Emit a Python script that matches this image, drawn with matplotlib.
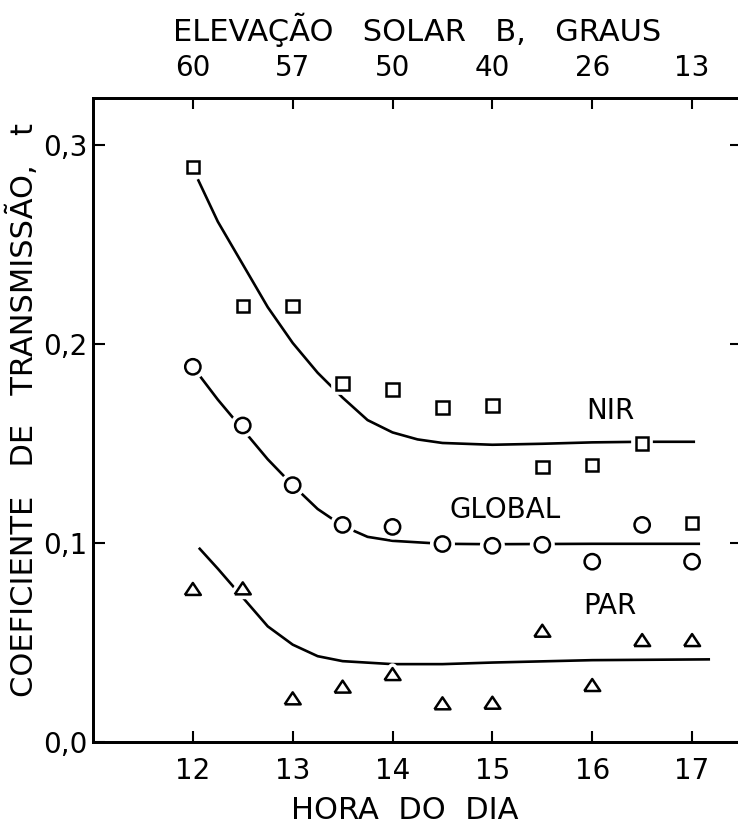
import matplotlib
matplotlib.use("Agg")
import matplotlib.pyplot as plt
from matplotlib import patheffects as pe

plt.rcParams['font.family'] = ['DejaVu Sans']

# hora do dia das medidas
horas = [12.0, 12.5, 13.0, 13.5, 14.0, 14.5, 15.0, 15.5, 16.0, 16.5, 17.0]

nir = [0.289, 0.219, 0.219, 0.180, 0.177, 0.168, 0.169, 0.138, 0.139, 0.150, 0.110]
glob = [0.1885, 0.159, 0.129, 0.109, 0.108, 0.0994, 0.0985, 0.099, 0.0905, 0.109, 0.0905]
par = [0.0768, 0.0771, 0.0218, 0.0277, 0.034, 0.0193, 0.0196, 0.0558, 0.0285, 0.0511, 0.0511]

# curvas ajustadas
nir_cx = [12.05, 12.25, 12.5, 12.75, 13.0, 13.25, 13.5, 13.75, 14.0, 14.25, 14.5, 15.0, 15.5, 16.0, 16.5, 17.03]
nir_cy = [0.2828, 0.2615, 0.2400, 0.2185, 0.2005, 0.1855, 0.1730, 0.1617, 0.1555, 0.1520, 0.1502, 0.1493, 0.1498, 0.1505, 0.1508, 0.1508]

glob_cx = [12.0, 12.25, 12.5, 12.75, 13.0, 13.25, 13.5, 13.75, 14.0, 14.5, 15.0, 16.0, 17.08]
glob_cy = [0.1885, 0.172, 0.157, 0.142, 0.129, 0.117, 0.1085, 0.103, 0.101, 0.0995, 0.0993, 0.0995, 0.0995]

par_cx = [12.06, 12.25, 12.5, 12.75, 13.0, 13.25, 13.5, 14.0, 14.5, 15.0, 16.0, 17.18]
par_cy = [0.0975, 0.087, 0.0725, 0.058, 0.0488, 0.043, 0.0405, 0.039, 0.039, 0.0398, 0.041, 0.0414]

# eixo superior: elevacao solar
elev_pos = [12, 13, 14, 15, 16, 17]
elev_lab = ['60', '57', '50', '40', '26', '13']

x_ticks = [12, 13, 14, 15, 16, 17]
y_ticks = [0.0, 0.1, 0.2, 0.3]
y_lab = ['0,0', '0,1', '0,2', '0,3']

fs = 20

fig = plt.figure(figsize=(7.38, 8.34), dpi=100)
ax = fig.add_axes([93 / 738, 1 - 741.7 / 834, (742 - 93) / 738, (741.7 - 98.3) / 834])

for cx, cy in [(nir_cx, nir_cy), (glob_cx, glob_cy), (par_cx, par_cy)]:
    ax.plot(cx, cy, color='black', lw=1.9, solid_capstyle='butt')

halo = [pe.withStroke(linewidth=7, foreground='white')]
tri = [(-1, -0.75), (1, -0.75), (0, 0.75), (-1, -0.75)]

ax.plot(horas, nir, ls='none', marker='s', ms=9, mfc='white', mec='black', mew=1.8, path_effects=halo)
ax.plot(horas, glob, ls='none', marker='o', ms=11, mfc='white', mec='black', mew=1.8, path_effects=halo)
ax.plot(horas, par, ls='none', marker=tri, ms=11.5, mfc='white', mec='black', mew=1.8, path_effects=halo)

ax.text(16.18, 0.1664, 'NIR', fontsize=fs, ha='center', va='center')
ax.text(15.13, 0.1165, 'GLOBAL', fontsize=fs, ha='center', va='center')
ax.text(16.18, 0.0682, 'PAR', fontsize=fs, ha='center', va='center')

ax.set_xlim(11.0, 17.5)
ax.set_ylim(0.0, 0.3235)
ax.set_xticks(x_ticks)
ax.set_xticklabels([str(t) for t in x_ticks])
ax.set_yticks(y_ticks)
ax.set_yticklabels(y_lab)
ax.tick_params(axis='x', direction='in', length=8, width=1.5, labelsize=fs, pad=11)
ax.tick_params(axis='y', direction='in', length=8.5, width=1.5, labelsize=fs, pad=4, right=True)

for s in ax.spines.values():
    s.set_linewidth(2)

ax.set_xlabel('HORA  DO  DIA', fontsize=22)
ax.xaxis.set_label_coords(0.481, -0.085)
ax.set_ylabel('COEFICIENTE   DE   TRANSMISSÃO,   t', fontsize=22)
ax.yaxis.set_label_coords(-0.083, 0.515)

ax2 = ax.twiny()
ax2.set_xlim(ax.get_xlim())
ax2.set_xticks(elev_pos)
ax2.set_xticklabels(elev_lab)
ax2.tick_params(axis='x', direction='in', length=8, width=1.5, labelsize=fs, pad=12)
ax2.set_xlabel('ELEVAÇÃO   SOLAR   B,   GRAUS', fontsize=22, labelpad=9)
for s in ax2.spines.values():
    s.set_linewidth(2)

fig.savefig('out.png', dpi=100)
